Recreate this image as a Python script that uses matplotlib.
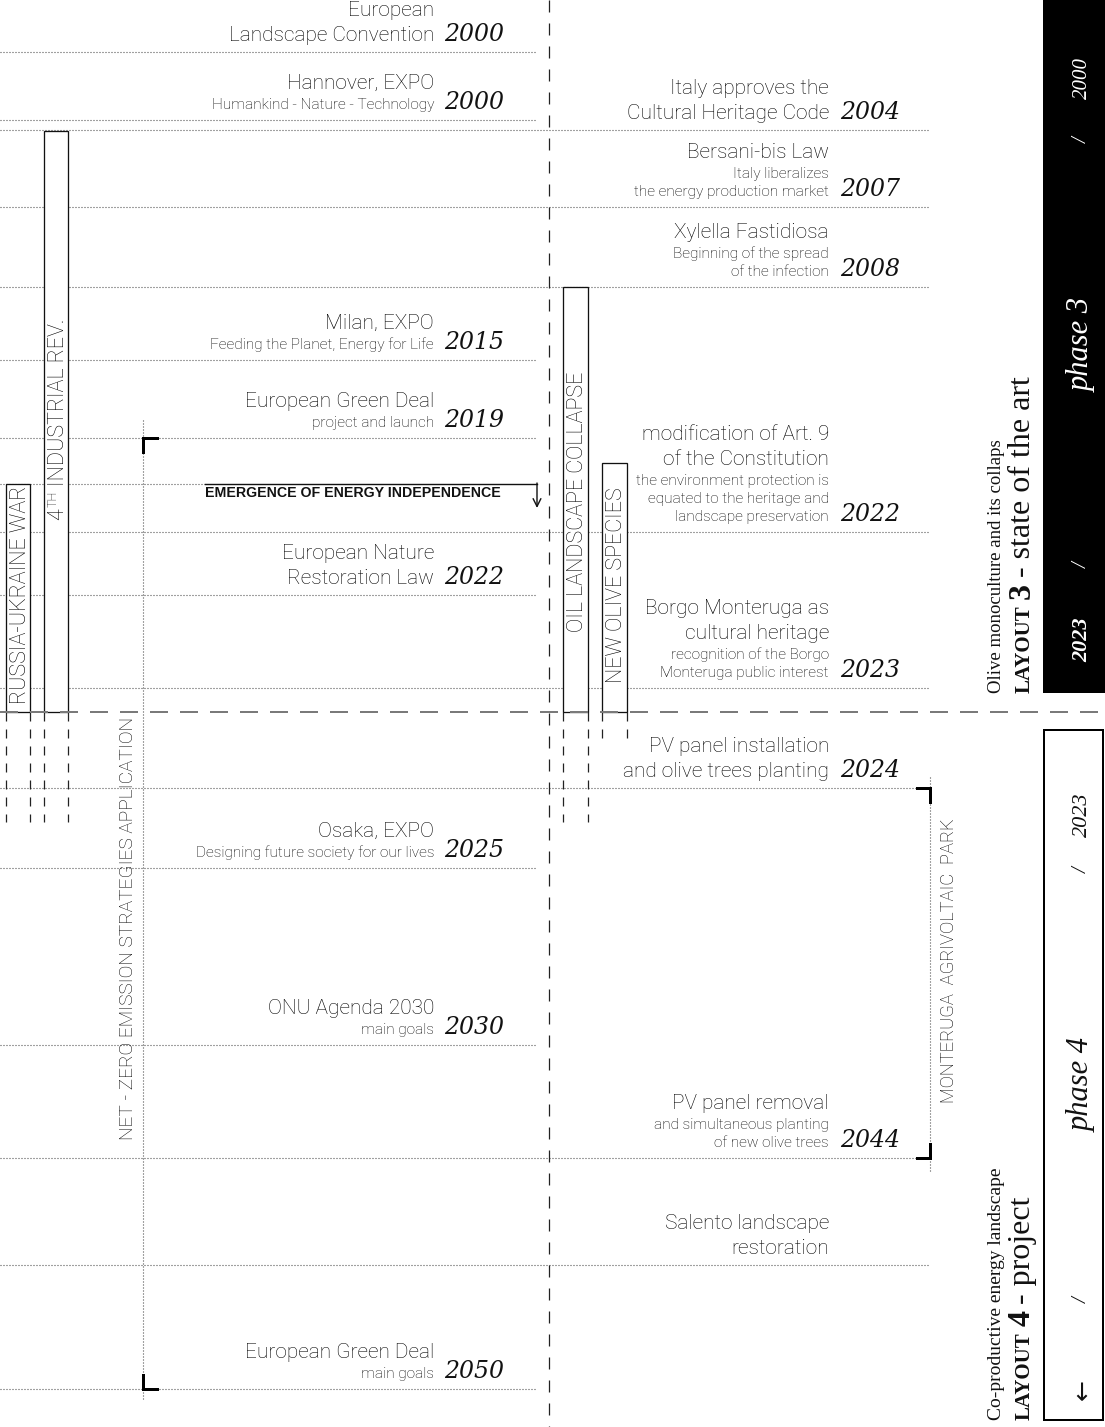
import matplotlib
matplotlib.use('Agg')
import matplotlib.pyplot as plt
from matplotlib.patches import Rectangle

plt.rcParams['lines.scale_dashes'] = False
PT = 0.72  # one pixel in points at dpi 100

# ---- data ----
left_titles = [["European", "Landscape Convention"], ["Hannover, EXPO"], ["Milan, EXPO"],
               ["European Green Deal"], ["European Nature", "Restoration Law"], ["Osaka, EXPO"],
               ["ONU Agenda 2030"], ["European Green Deal"]]
left_subs = [[], ["Humankind - Nature - Technology"], ["Feeding the Planet, Energy for Life"],
             ["project and launch"], [], ["Designing future society for our lives"],
             ["main goals"], ["main goals"]]
left_years = ["2000", "2000", "2015", "2019", "2022", "2025", "2030", "2050"]
left_rows = [52, 120, 360, 438, 595, 868, 1045, 1389]

right_titles = [["Italy approves the", "Cultural Heritage Code"], ["Bersani-bis Law"],
                ["Xylella Fastidiosa"], ["modification of Art. 9", "of the Constitution"],
                ["Borgo Monteruga as", "cultural heritage"],
                ["PV panel installation", "and olive trees planting"], ["PV panel removal"],
                ["Salento landscape", "restoration"]]
right_subs = [[], ["Italy liberalizes", "the energy production market"],
              ["Beginning of the spread", "of the infection"],
              ["the environment protection is", "equated to the heritage and",
               "landscape preservation"],
              ["recognition of the Borgo", "Monteruga public interest"], [],
              ["and simultaneous planting", "of new olive trees"], []]
right_years = ["2004", "2007", "2008", "2022", "2023", "2024", "2044", ""]
right_rows = [130, 207, 287, 532, 688, 788, 1158, 1265]

span_labels = ["RUSSIA-UKRAINE WAR", "INDUSTRIAL REV.", "OIL LANDSCAPE COLLAPSE", "NEW OLIVE SPECIES"]
span_x0 = [6, 44, 563, 602]
span_x1 = [30, 68, 588, 627]
span_top = [484, 131, 287, 463]
span_text_start = [704, 520, 632, 683]
span_tail = [822, 822, 822, 742]

split_y = 712
center_x = 549

fig = plt.figure(figsize=(11.05, 14.27), dpi=100)
ax = fig.add_axes([0, 0, 1, 1])
ax.set_xlim(0, 1105)
ax.set_ylim(1427, 0)
ax.axis('off')
r = fig.canvas.get_renderer()

sans = dict(family='Roboto', fontweight='light', color='#000000')
serif = dict(family=['Liberation Serif', 'DejaVu Serif'])
yearfont = dict(family='DejaVu Serif', style='italic', color='#111111')
dot = dict(color='#444444', lw=0.8, ls=(0, (1 * PT, 2 * PT)), zorder=1)


def event(xt, xy, row, titles, subs, year):
    base = row - 11
    y = base
    for s in reversed(subs):
        ax.text(xt, y, s, ha='right', va='baseline', fontsize=11.1, **sans)
        y -= 18
    if subs:
        y -= 2
    for t in reversed(titles):
        ax.text(xt, y, t, ha='right', va='baseline', fontsize=15, **sans)
        y -= 25
    if year:
        ax.text(xy, base, year, ha='left', va='baseline', fontsize=17, **yearfont)


def vtext(x, y, pieces):
    for s, kw, dx, gap in pieces:
        t = ax.text(x + dx, y, s, rotation=90, rotation_mode='anchor', ha='left',
                    va='baseline', **kw)
        y -= t.get_window_extent(r).height + gap


# row separators
for row in left_rows:
    ax.plot([0, 536], [row, row], **dot)
for row in right_rows:
    ax.plot([0, 930], [row, row], **dot)
ax.plot([0, 205], [484, 484], **dot)

for i in range(len(left_rows)):
    event(434, 444, left_rows[i], left_titles[i], left_subs[i], left_years[i])
for i in range(len(right_rows)):
    event(829, 840, right_rows[i], right_titles[i], right_subs[i], right_years[i])

# center and split lines
ax.plot([center_x, center_x], [0, 1427], color='#222222', lw=0.9,
        ls=(0, (12 * PT, 11 * PT)), zorder=2)
ax.plot([0, 1105], [split_y, split_y], color='#7a7a7a', lw=2 * PT,
        ls=(0, (18 * PT, 12 * PT)), zorder=4)

# time spans
for i in range(len(span_labels)):
    x0, x1 = span_x0[i], span_x1[i]
    ax.add_patch(Rectangle((x0, span_top[i]), x1 - x0, split_y - span_top[i], fc='white',
                           ec='#111111', lw=1.3 * PT, zorder=3))
    for xx in (x0, x1):
        ax.plot([xx, xx], [split_y, span_tail[i]], color='#222222', lw=0.9,
                ls=(0, (9 * PT, 8 * PT)), zorder=2)
    xc = (x0 + x1) / 2 + 7.5
    lab = dict(fontsize=15.5, zorder=5, **sans)
    if i == 1:
        vtext(xc, span_text_start[i], [("4", lab, 0, 1),
                                       ("TH", dict(fontsize=9, zorder=5, **sans), -7, 5),
                                       (span_labels[i], lab, 0, 0)])
    else:
        vtext(xc, span_text_start[i], [(span_labels[i], lab, 0, 0)])

# net zero strategies
ax.plot([143, 143], [420, 1400], **dot)
ax.plot([143, 143, 157], [452, 438, 438], color='black', lw=3 * PT,
        solid_joinstyle='miter', zorder=5)
ax.plot([143, 143, 157], [1375, 1389, 1389], color='black', lw=3 * PT,
        solid_joinstyle='miter', zorder=5)
vtext(133, 1140, [("NET - ZERO EMISSION STRATEGIES APPLICATION",
                   dict(fontsize=13.8, zorder=5, **sans), 0, 0)])

# agrivoltaic park
ax.plot([930, 930], [777, 1172], **dot)
ax.plot([917, 930, 930], [788, 788, 802], color='black', lw=3 * PT,
        solid_joinstyle='miter', zorder=5)
ax.plot([917, 930, 930], [1158, 1158, 1144], color='black', lw=3 * PT,
        solid_joinstyle='miter', zorder=5)
vtext(954, 1103, [("MONTERUGA  AGRIVOLTAIC  PARK", dict(fontsize=13.2, **sans), 0, 0)])

# energy independence arrow
ax.plot([205, 537], [484, 484], color='#111111', lw=1.4 * PT, zorder=3)
ax.annotate('', xy=(537, 508), xytext=(537, 483),
            arrowprops=dict(arrowstyle='->', lw=1.4 * PT, color='#111111',
                            mutation_scale=14, shrinkA=0, shrinkB=0))
ax.text(205, 497, "EMERGENCE OF ENERGY INDEPENDENCE", ha='left', va='baseline',
        fontsize=10.2, family='Liberation Sans', fontweight='bold', color='#111111')

# right panel, phase 3
ax.add_patch(Rectangle((1043, 0), 62, 693, fc='black', ec='none', zorder=3))
wt = dict(color='white', style='italic', zorder=6, **serif)
px = 1082
ax.text(px, 78, "2000", rotation=90, ha='center', va='center', fontsize=15, **wt)
ax.text(px, 140, "/", rotation=90, ha='center', va='center', fontsize=15, **wt)
ax.text(px, 345, "phase 3", rotation=90, ha='center', va='center', fontsize=22, **wt)
ax.text(px, 565, "/", rotation=90, ha='center', va='center', fontsize=15, **wt)
ax.text(px, 640, "2023", rotation=90, ha='center', va='center', fontsize=16,
        fontweight='bold', **wt)

# right panel, phase 4
ax.add_patch(Rectangle((1044, 730), 59, 690, fill=False, ec='black', lw=2 * PT, zorder=3))
bt = dict(color='#111111', style='italic', zorder=6, **serif)
ax.text(px, 815, "2023", rotation=90, ha='center', va='center', fontsize=16, **bt)
ax.text(px, 870, "/", rotation=90, ha='center', va='center', fontsize=15, **bt)
ax.text(px, 1085, "phase 4", rotation=90, ha='center', va='center', fontsize=22, **bt)
ax.text(px, 1300, "/", rotation=90, ha='center', va='center', fontsize=15, **bt)
ax.text(px, 1390, "\u2190", rotation=90, ha='center', va='center', fontsize=18,
        color='#111111', family=['DejaVu Sans'])

# layout captions
cap = dict(color='#111111', **serif)
vtext(1001, 693, [("Olive monoculture and its collaps", dict(fontsize=13.5, **cap), 0, 0)])
vtext(1030, 693, [("LAYOUT", dict(fontsize=15, fontweight='bold', **cap), 0, 6),
                  ("3", dict(fontsize=23, fontweight='bold', **cap), 0, 6),
                  ("- state of the art", dict(fontsize=23, **cap), 0, 0)])
vtext(1001, 1420, [("Co-productive energy landscape", dict(fontsize=14, **cap), 0, 0)])
vtext(1030, 1420, [("LAYOUT", dict(fontsize=15, fontweight='bold', **cap), 0, 6),
                   ("4", dict(fontsize=23, fontweight='bold', **cap), 0, 6),
                   ("- project", dict(fontsize=23, **cap), 0, 0)])

fig.savefig('out.png', dpi=100, facecolor='white')
